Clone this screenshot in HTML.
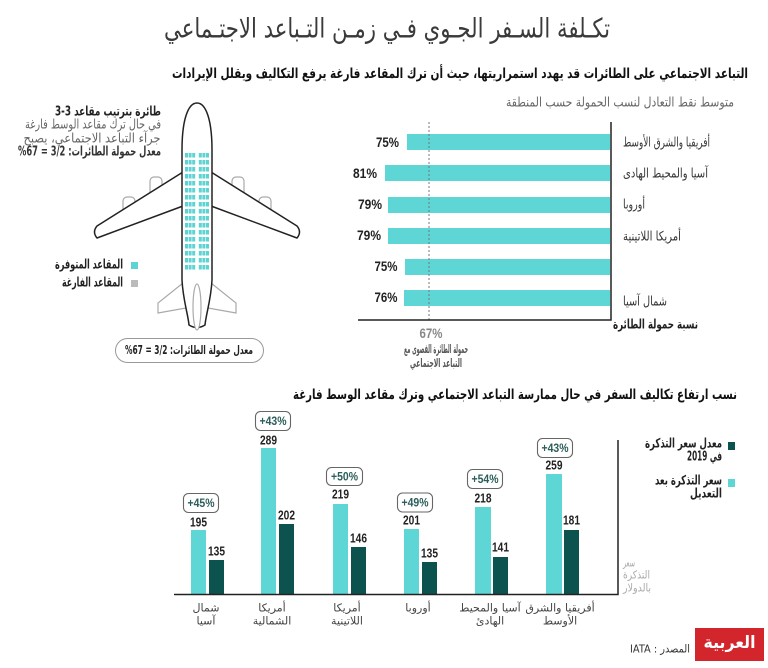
<!DOCTYPE html>
<html><head><meta charset="utf-8">
<style>
html,body{margin:0;padding:0;background:#fff;width:768px;height:668px;overflow:hidden}
svg{display:block}
text{font-family:"DejaVu Sans","Liberation Sans",sans-serif;dominant-baseline:central;text-anchor:middle}
.b{font-weight:bold}
.num{font-family:"Liberation Sans",sans-serif;font-weight:bold}
</style></head><body>
<svg width="768" height="668" viewBox="0 0 768 668">
<defs>
<pattern id="seats" patternUnits="userSpaceOnUse" x="184" y="152" width="26" height="7">
<rect x="1" y="1" width="3" height="4.5" fill="#5ed3d3"/>
<rect x="4.6" y="1" width="3" height="4.5" fill="#5ed3d3"/>
<rect x="8.2" y="1" width="3" height="4.5" fill="#5ed3d3"/>
<rect x="14.8" y="1" width="3" height="4.5" fill="#5ed3d3"/>
<rect x="18.4" y="1" width="3" height="4.5" fill="#5ed3d3"/>
<rect x="22" y="1" width="3" height="4.5" fill="#5ed3d3"/>
</pattern>
</defs>

<!-- Title -->
<text x="387" y="29" font-size="27" fill="#3a3a3a" direction="rtl" textLength="446" lengthAdjust="spacingAndGlyphs">تكـلفة السـفر الجـوي فـي زمـن التـباعد الاجتـماعي</text>
<text class="b" x="460" y="74" font-size="14" fill="#111" direction="rtl" textLength="576" lengthAdjust="spacingAndGlyphs">التباعد الاجتماعي على الطائرات قد يهدد استمراريتها، حيث أن ترك المقاعد فارغة يرفع التكاليف ويقلل الإيرادات</text>
<text x="620" y="103" font-size="13" fill="#666" direction="rtl" textLength="228" lengthAdjust="spacingAndGlyphs">متوسط نقط التعادل لنسب الحمولة حسب المنطقة</text>

<!-- Plane -->
<g fill="#fff" stroke="#aaa" stroke-width="1.2">
<rect x="150" y="177" width="12" height="20" rx="4"/>
<rect x="123" y="197" width="12" height="18" rx="4"/>
<rect x="232" y="177" width="12" height="20" rx="4"/>
<rect x="259" y="197" width="12" height="18" rx="4"/>
<path d="M183,283 L158,303 L158,313 L186,308 Z"/>
<path d="M211,283 L236,303 L236,313 L208,308 Z"/>
</g>
<g fill="#fff" stroke="#222" stroke-width="1.5" stroke-linejoin="round">
<path d="M183,172 L97,226 Q92,232 97,238 L183,206 Z"/>
<path d="M211,172 L297,226 Q302,232 297,238 L211,206 Z"/>
<path d="M182,150 C182,120 188,103 197,103 C206,103 212,120 212,150 L212,280 C211,300 206,314 205,325 Q197,330 189,325 C188,314 183,300 182,280 Z"/>
</g>
<rect x="184" y="152" width="26" height="119" fill="url(#seats)"/>
<ellipse cx="197" cy="307" rx="4" ry="23" fill="#fff" stroke="#aaa" stroke-width="1.2"/>

<!-- Left text block -->
<text class="b" x="108" y="112" font-size="13" fill="#222" direction="rtl" textLength="106" lengthAdjust="spacingAndGlyphs">طائرة بترتيب مقاعد 3-3</text>
<text x="93" y="125" font-size="13" fill="#666" direction="rtl" textLength="136" lengthAdjust="spacingAndGlyphs">في حال ترك مقاعد الوسط فارغة</text>
<text x="92" y="139" font-size="13" fill="#666" direction="rtl" textLength="137" lengthAdjust="spacingAndGlyphs">جرآء التباعد الاجتماعي، يصبح</text>
<text class="b" x="89.5" y="152" font-size="13" fill="#333" direction="rtl" textLength="143" lengthAdjust="spacingAndGlyphs">معدل حمولة الطائرات: 3/2 = 67%</text>

<!-- Legend left -->
<rect x="131" y="262" width="7" height="7" fill="#5ed3d3"/>
<text class="b" x="89" y="265" font-size="13" fill="#222" direction="rtl" textLength="68" lengthAdjust="spacingAndGlyphs">المقاعد المتوفرة</text>
<rect x="131" y="280" width="7" height="7" fill="#bbb"/>
<text class="b" x="92.5" y="283" font-size="13" fill="#222" direction="rtl" textLength="61" lengthAdjust="spacingAndGlyphs">المقاعد الفارغة</text>

<!-- Pill -->
<rect x="115.5" y="338.5" width="148" height="24" rx="12" fill="#fff" stroke="#999" stroke-width="1"/>
<text class="b" x="189" y="350" font-size="12" fill="#222" direction="rtl" textLength="128" lengthAdjust="spacingAndGlyphs">معدل حمولة الطائرات: 3/2 = 67%</text>

<!-- Top chart -->
<g fill="#5ed6d6">
<rect x="407" y="134" width="203" height="16"/>
<rect x="385" y="165" width="225" height="16"/>
<rect x="388" y="197" width="222" height="16"/>
<rect x="388" y="228" width="222" height="16"/>
<rect x="405" y="259" width="205" height="16"/>
<rect x="404" y="290" width="206" height="16"/>
</g>
<line x1="429" y1="122" x2="429" y2="320" stroke="#777" stroke-width="1" stroke-dasharray="2,2"/>
<path d="M358,320 L611,320 L611,122" fill="none" stroke="#222" stroke-width="1.5"/>
<g font-size="14" fill="#222">
<text class="num" x="387.5" y="142" textLength="23" lengthAdjust="spacingAndGlyphs">75%</text>
<text class="num" x="365" y="173" textLength="24" lengthAdjust="spacingAndGlyphs">81%</text>
<text class="num" x="370" y="204" textLength="24" lengthAdjust="spacingAndGlyphs">79%</text>
<text class="num" x="369" y="235" textLength="24" lengthAdjust="spacingAndGlyphs">79%</text>
<text class="num" x="386" y="266" textLength="23" lengthAdjust="spacingAndGlyphs">75%</text>
<text class="num" x="386" y="297" textLength="23" lengthAdjust="spacingAndGlyphs">76%</text>
</g>
<g font-size="13" fill="#333">
<text x="666.5" y="143" direction="rtl" textLength="87" lengthAdjust="spacingAndGlyphs">أفريقيا والشرق الأوسط</text>
<text x="665.5" y="174" direction="rtl" textLength="85" lengthAdjust="spacingAndGlyphs">آسيا والمحيط الهادى</text>
<text x="634" y="205" direction="rtl" textLength="22" lengthAdjust="spacingAndGlyphs">أوروبا</text>
<text x="652" y="237" direction="rtl" textLength="58" lengthAdjust="spacingAndGlyphs">أمريكا اللاتينية</text>
<text x="645" y="302" direction="rtl" textLength="44" lengthAdjust="spacingAndGlyphs">شمال آسيا</text>
</g>
<text class="b" x="655.5" y="325" font-size="13" fill="#222" direction="rtl" textLength="85" lengthAdjust="spacingAndGlyphs">نسبة حمولة الطائرة</text>
<text class="num" x="431" y="333" font-size="14" fill="#888" textLength="23" lengthAdjust="spacingAndGlyphs">67%</text>
<text class="b" x="436" y="349" font-size="12" fill="#555" direction="rtl" textLength="64" lengthAdjust="spacingAndGlyphs">حمولة الطائرة القصوى مع</text>
<text class="b" x="436" y="363" font-size="12" fill="#555" direction="rtl" textLength="52" lengthAdjust="spacingAndGlyphs">التباعد الاجتماعي</text>

<!-- Bottom chart -->
<text class="b" x="515" y="395" font-size="14" fill="#111" direction="rtl" textLength="444" lengthAdjust="spacingAndGlyphs">نسب ارتفاع تكاليف السفر في حال ممارسة التباعد الاجتماعي وترك مقاعد الوسط فارغة</text>

<g fill="#5ed6d6">
<rect x="191" y="530" width="15" height="64"/>
<rect x="261" y="448" width="15" height="146"/>
<rect x="333" y="504" width="15" height="90"/>
<rect x="404" y="529" width="15" height="65"/>
<rect x="475" y="507" width="16" height="87"/>
<rect x="546" y="474" width="16" height="120"/>
</g>
<g fill="#0c524e">
<rect x="209" y="560" width="15" height="34"/>
<rect x="279" y="524" width="15" height="70"/>
<rect x="351" y="547" width="15" height="47"/>
<rect x="422" y="562" width="15" height="32"/>
<rect x="493" y="557" width="15" height="37"/>
<rect x="564" y="530" width="15" height="64"/>
</g>
<path d="M174,594.5 L618,594.5 L618,440" fill="none" stroke="#222" stroke-width="1.5"/>

<g font-size="13" fill="#222">
<text class="num" x="198.5" y="522" textLength="17" lengthAdjust="spacingAndGlyphs">195</text>
<text class="num" x="216.5" y="551" textLength="17" lengthAdjust="spacingAndGlyphs">135</text>
<text class="num" x="268.5" y="440" textLength="17" lengthAdjust="spacingAndGlyphs">289</text>
<text class="num" x="286.5" y="515" textLength="17" lengthAdjust="spacingAndGlyphs">202</text>
<text class="num" x="340.5" y="494" textLength="17" lengthAdjust="spacingAndGlyphs">219</text>
<text class="num" x="358.5" y="538" textLength="17" lengthAdjust="spacingAndGlyphs">146</text>
<text class="num" x="411.5" y="520" textLength="17" lengthAdjust="spacingAndGlyphs">201</text>
<text class="num" x="429.5" y="553" textLength="17" lengthAdjust="spacingAndGlyphs">135</text>
<text class="num" x="483" y="498" textLength="17" lengthAdjust="spacingAndGlyphs">218</text>
<text class="num" x="500.5" y="547" textLength="17" lengthAdjust="spacingAndGlyphs">141</text>
<text class="num" x="554" y="465" textLength="17" lengthAdjust="spacingAndGlyphs">259</text>
<text class="num" x="571.5" y="520" textLength="17" lengthAdjust="spacingAndGlyphs">181</text>
</g>

<g fill="#fff" stroke="#666" stroke-width="1.1">
<rect x="183.5" y="493.5" width="35" height="19" rx="5"/>
<rect x="255.5" y="411.5" width="35" height="19" rx="5"/>
<rect x="326.5" y="467.5" width="36" height="18" rx="5"/>
<rect x="397.5" y="493" width="35" height="19" rx="5"/>
<rect x="467.5" y="469.5" width="35" height="19" rx="5"/>
<rect x="537.5" y="438.5" width="35" height="19" rx="5"/>
</g>
<g font-size="12" fill="#2c5e5b">
<text class="num" x="201" y="503" textLength="27" lengthAdjust="spacingAndGlyphs">+45%</text>
<text class="num" x="273" y="421" textLength="27" lengthAdjust="spacingAndGlyphs">+43%</text>
<text class="num" x="344.5" y="476.5" textLength="27" lengthAdjust="spacingAndGlyphs">+50%</text>
<text class="num" x="415" y="502.5" textLength="27" lengthAdjust="spacingAndGlyphs">+49%</text>
<text class="num" x="485" y="479" textLength="27" lengthAdjust="spacingAndGlyphs">+54%</text>
<text class="num" x="555" y="448" textLength="27" lengthAdjust="spacingAndGlyphs">+43%</text>
</g>

<!-- Legend bottom -->
<rect x="728" y="442" width="7" height="8" fill="#0c524e"/>
<text class="b" x="683.5" y="444" font-size="13" fill="#222" direction="rtl" textLength="77" lengthAdjust="spacingAndGlyphs">معدل سعر التذكرة</text>
<text class="b" x="704.5" y="457" font-size="13" fill="#222" direction="rtl" textLength="35" lengthAdjust="spacingAndGlyphs">في 2019</text>
<rect x="728" y="479" width="7" height="8" fill="#5ed6d6"/>
<text class="b" x="688.5" y="481" font-size="13" fill="#222" direction="rtl" textLength="67" lengthAdjust="spacingAndGlyphs">سعر التذكرة بعد</text>
<text class="b" x="706" y="494" font-size="13" fill="#222" direction="rtl" textLength="32" lengthAdjust="spacingAndGlyphs">التعديل</text>

<g font-size="11" fill="#aaa">
<text x="629" y="563" direction="rtl" textLength="12" lengthAdjust="spacingAndGlyphs">سعر</text>
<text x="636.5" y="575" direction="rtl" textLength="27" lengthAdjust="spacingAndGlyphs">التذكرة</text>
<text x="637" y="588" direction="rtl" textLength="28" lengthAdjust="spacingAndGlyphs">بالدولار</text>
</g>

<g font-size="11" fill="#444">
<text x="206" y="608" direction="rtl">شمال</text>
<text x="206" y="621" direction="rtl">آسيا</text>
<text x="272" y="608" direction="rtl">أمريكا</text>
<text x="272" y="621" direction="rtl">الشمالية</text>
<text x="347" y="608" direction="rtl">أمريكا</text>
<text x="347" y="621" direction="rtl">اللاتينية</text>
<text x="418" y="608" direction="rtl">أوروبا</text>
<text x="490" y="608" direction="rtl">آسيا والمحيط</text>
<text x="490" y="621" direction="rtl">الهادئ</text>
<text x="560" y="608" direction="rtl">أفريقيا والشرق</text>
<text x="560" y="621" direction="rtl">الأوسط</text>
</g>

<!-- Logo and source -->
<rect x="695" y="628" width="69" height="33" fill="#d3262c"/>
<text class="b" x="729.5" y="643" font-size="17" fill="#fff" direction="rtl" textLength="52" lengthAdjust="spacingAndGlyphs">العربية</text>
<text x="660" y="649" font-size="11" fill="#333" direction="rtl" textLength="60" lengthAdjust="spacingAndGlyphs">المصدر : IATA</text>
</svg>
</body></html>
